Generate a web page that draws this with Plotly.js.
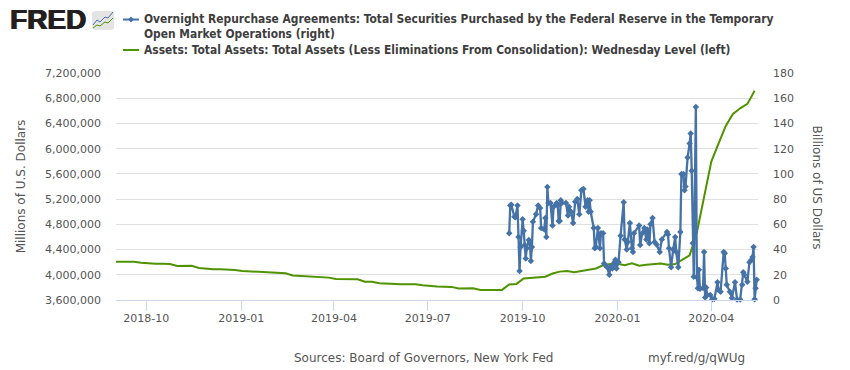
<!DOCTYPE html>
<html><head><meta charset="utf-8">
<script src="https://cdn.plot.ly/plotly-3.0.1.min.js"></script>
<style>html,body{margin:0;padding:0;background:#fff}#c{width:850px;height:370px}</style>
</head><body><div id="c"></div>
<script>
const assetDates=["2018-08-29","2018-09-05","2018-09-12","2018-09-19","2018-09-26","2018-10-03","2018-10-10","2018-10-17","2018-10-24","2018-10-31","2018-11-07","2018-11-14","2018-11-21","2018-11-28","2018-12-05","2018-12-12","2018-12-19","2018-12-26","2019-01-02","2019-01-09","2019-01-16","2019-01-23","2019-01-30","2019-02-06","2019-02-13","2019-02-20","2019-02-27","2019-03-06","2019-03-13","2019-03-20","2019-03-27","2019-04-03","2019-04-10","2019-04-17","2019-04-24","2019-05-01","2019-05-08","2019-05-15","2019-05-22","2019-05-29","2019-06-05","2019-06-12","2019-06-19","2019-06-26","2019-07-03","2019-07-10","2019-07-17","2019-07-24","2019-07-31","2019-08-07","2019-08-14","2019-08-21","2019-08-28","2019-09-04","2019-09-11","2019-09-18","2019-09-25","2019-10-02","2019-10-09","2019-10-16","2019-10-23","2019-10-30","2019-11-06","2019-11-13","2019-11-20","2019-11-27","2019-12-04","2019-12-11","2019-12-18","2019-12-25","2020-01-01","2020-01-08","2020-01-15","2020-01-22","2020-01-29","2020-02-05","2020-02-12","2020-02-19","2020-02-26","2020-03-04","2020-03-11","2020-03-18","2020-03-25","2020-04-01","2020-04-08","2020-04-15","2020-04-22","2020-04-29","2020-05-06","2020-05-13"];
const assetMillions=[4208000,4208000,4208000,4205000,4190000,4176000,4174000,4175000,4172000,4140000,4142000,4144000,4108000,4095000,4087000,4088000,4087000,4075000,4060000,4055000,4048000,4043000,4034000,4027000,4025000,3988000,3982000,3978000,3976000,3970000,3955000,3934000,3932000,3930000,3928000,3890000,3890000,3866000,3858000,3852000,3850000,3851000,3850000,3835000,3820000,3815000,3812000,3808000,3782000,3784000,3786000,3760000,3760000,3758000,3760000,3845000,3855000,3940000,3950000,3965000,3970000,4020000,4050000,4060000,4040000,4060000,4075000,4100000,4150000,4170000,4175000,4150000,4182000,4145000,4160000,4175000,4180000,4160000,4170000,4240000,4310000,4670000,5250000,5795000,6080000,6360000,6550000,6640000,6710000,6920000];
const repoDates=["2019-09-18","2019-09-19","2019-09-20","2019-09-23","2019-09-24","2019-09-26","2019-09-27","2019-09-28","2019-09-29","2019-10-01","2019-10-02","2019-10-03","2019-10-04","2019-10-05","2019-10-07","2019-10-08","2019-10-09","2019-10-10","2019-10-11","2019-10-14","2019-10-16","2019-10-18","2019-10-19","2019-10-22","2019-10-23","2019-10-24","2019-10-25","2019-10-26","2019-10-28","2019-10-30","2019-10-31","2019-11-03","2019-11-04","2019-11-05","2019-11-06","2019-11-07","2019-11-08","2019-11-12","2019-11-14","2019-11-15","2019-11-17","2019-11-19","2019-11-21","2019-11-23","2019-11-25","2019-11-27","2019-11-29","2019-12-01","2019-12-03","2019-12-04","2019-12-05","2019-12-06","2019-12-09","2019-12-10","2019-12-11","2019-12-13","2019-12-15","2019-12-16","2019-12-18","2019-12-19","2019-12-20","2019-12-22","2019-12-24","2019-12-25","2019-12-27","2019-12-28","2019-12-29","2019-12-30","2019-12-31","2020-01-02","2020-01-04","2020-01-07","2020-01-08","2020-01-10","2020-01-11","2020-01-13","2020-01-15","2020-01-16","2020-01-17","2020-01-22","2020-01-23","2020-01-25","2020-01-27","2020-01-29","2020-01-30","2020-02-01","2020-02-02","2020-02-04","2020-02-06","2020-02-08","2020-02-11","2020-02-13","2020-02-18","2020-02-19","2020-02-20","2020-02-22","2020-02-24","2020-02-26","2020-02-27","2020-02-29","2020-03-02","2020-03-03","2020-03-05","2020-03-06","2020-03-07","2020-03-09","2020-03-11","2020-03-12","2020-03-13","2020-03-14","2020-03-15","2020-03-17","2020-03-18","2020-03-19","2020-03-20","2020-03-21","2020-03-24","2020-03-25","2020-03-26","2020-03-27","2020-03-28","2020-03-31","2020-04-02","2020-04-04","2020-04-07","2020-04-08","2020-04-10","2020-04-13","2020-04-14","2020-04-15","2020-04-16","2020-04-19","2020-04-21","2020-04-24","2020-04-26","2020-04-29","2020-05-01","2020-05-02","2020-05-03","2020-05-06","2020-05-08","2020-05-10","2020-05-11","2020-05-12","2020-05-13","2020-05-14","2020-05-15"];
const repoBillions=[53,75,75.5,66,65.7,75,50,23,42,64,55,43.6,33,41,47.6,46,31,42,62,68,75,73,57,56,65,50,89.6,77,77,59,74,77,75,62.6,62.6,79,77,77,67,74,70,61,78,80,68,87,88,74,79,70,79,70,57,41,42,57,41,53,53,29,28,26,20,26,25,28,30,32,25,30,51,77.5,48,40,46,61,41,38,53,59,43.6,53,57,48,56,45,60,65,46,44,38,48,54,52,41,26,40,50,38,26,54,100,100,87,90,113,124,132,102.5,45,18.5,153,18,9.4,24,9,9.5,38,2,10,4,4,0.5,1,14,8,6.5,38,37,25,12,6.6,1.5,14,0.3,0.3,12,22,20,14.5,30,32,34,42,0.5,9.4,16];
const leftTicks=[3600000,4000000,4400000,4800000,5200000,5600000,6000000,6400000,6800000,7200000];
const rightTicks=[0,20,40,60,80,100,120,140,160,180];
const dateTicks=["2018-10-01","2019-01-01","2019-04-01","2019-07-01","2019-10-01","2020-01-01","2020-04-01"];
const dateLabels=["2018-10","2019-01","2019-04","2019-07","2019-10","2020-01","2020-04"];
const repoName="Overnight Repurchase Agreements: Total Securities Purchased by the Federal Reserve in the Temporary<br>Open Market Operations (right)";
const assetName="Assets: Total Assets: Total Assets (Less Eliminations From Consolidation): Wednesday Level (left)";
const BLUE="#4572A7",GREEN="#4F9300",FONT="DejaVu Sans, sans-serif",COND="DejaVu Sans Condensed, DejaVu Sans, sans-serif";
const L=116,R=758,T=73,B=300;
const px=x=>(x-L)/(R-L), py=y=>(B-y)/(B-T);
const ann=(x,y,text,size,color,family)=>({xref:'paper',yref:'paper',x:px(x),y:py(y),text,showarrow:false,xanchor:'left',yanchor:'middle',align:'left',font:{family:family||FONT,size,color}});
const pathOf=pts=>pts.map((p,i)=>(i?'L':'M')+px(p[0])+','+py(p[1])).join(' ');
const traces=[
 {x:repoDates,y:repoBillions,yaxis:'y2',type:'scatter',mode:'lines+markers',name:repoName,line:{color:BLUE,width:2.3},marker:{color:BLUE,symbol:'diamond',size:5},cliponaxis:false},
 {x:assetDates,y:assetMillions,yaxis:'y',type:'scatter',mode:'lines',name:assetName,line:{color:GREEN,width:2}}
];
const fredMark=ann(8,20,'<b>FRED</b>',28,'#231f20','Liberation Sans, sans-serif');
fredMark.font.shadow='0.8px 0 #231f20, -0.6px 0 #231f20';
const rightTitle=ann(817,187.5,'Billions of US Dollars',12,'#555');
rightTitle.textangle=90;rightTitle.xanchor='center';rightTitle.align='center';
const layout={
 width:850,height:370,showlegend:false,paper_bgcolor:'#fff',plot_bgcolor:'#fff',
 margin:{l:L,r:850-R,t:T,b:370-B,pad:0},
 font:{family:FONT,size:11,color:'#555'},
 xaxis:{type:'date',range:["2018-09-01 14:00","2020-05-16 07:00"],tickvals:dateTicks,ticktext:dateLabels,showgrid:false,zeroline:false,showline:true,linecolor:'#ccd6eb',linewidth:1,ticks:'outside',ticklen:10,tickcolor:'#ccd6eb',ticklabelstandoff:-2,tickfont:{size:11,color:'#555'}},
 yaxis:{range:[3600000,7200000],tickvals:leftTicks,tickformat:',d',showgrid:true,gridcolor:'#e0e0e0',gridwidth:1,zeroline:false,showline:false,ticks:'',ticklabelstandoff:14,tickfont:{size:11,color:'#555'},title:{text:'Millions of U.S. Dollars',font:{size:12,color:'#555'},standoff:16}},
 yaxis2:{range:[0,180],tickvals:rightTicks,overlaying:'y',side:'right',showgrid:false,zeroline:false,showline:false,ticks:'',ticklabelstandoff:14,tickfont:{size:11,color:'#555'}},
 shapes:[
  {type:'path',xref:'paper',yref:'paper',path:pathOf([[94,11],[112,11],[114,13],[114,28],[112,30],[94,30],[92,28],[92,13]])+' Z',fillcolor:'#e4e4e4',line:{width:0}},
  {type:'path',xref:'paper',yref:'paper',path:pathOf([[93,25],[97,20],[100,22],[105,17],[108,18],[113,12]]),line:{color:BLUE,width:1}},
  {type:'path',xref:'paper',yref:'paper',path:pathOf([[93,28],[97,25],[100,26],[105,22],[108,23],[113,18]]),line:{color:GREEN,width:1}},
  {type:'line',xref:'paper',yref:'paper',x0:px(123),x1:px(139),y0:py(19.5),y1:py(19.5),line:{color:BLUE,width:2}},
  {type:'path',xref:'paper',yref:'paper',path:pathOf([[131,16.5],[134,19.5],[131,22.5],[128,19.5]])+' Z',fillcolor:BLUE,line:{width:0}},
  {type:'line',xref:'paper',yref:'paper',x0:px(123),x1:px(139),y0:py(50),y1:py(50),line:{color:GREEN,width:2}}
 ],
 annotations:[
  fredMark,
  rightTitle,
  ann(142,26.5,'<b>'+repoName.replace('<br>','</b><br><b>')+'</b>',11.9,'#3d3d3d',COND),
  ann(142,50,'<b>'+assetName+'</b>',11.9,'#3d3d3d',COND),
  ann(292,358,'Sources: Board of Governors, New York Fed',12,'#555'),
  ann(646,358,'myf.red/g/qWUg',12,'#555')
 ]
};
Plotly.newPlot('c',traces,layout,{displayModeBar:false,staticPlot:true});
</script></body></html>
